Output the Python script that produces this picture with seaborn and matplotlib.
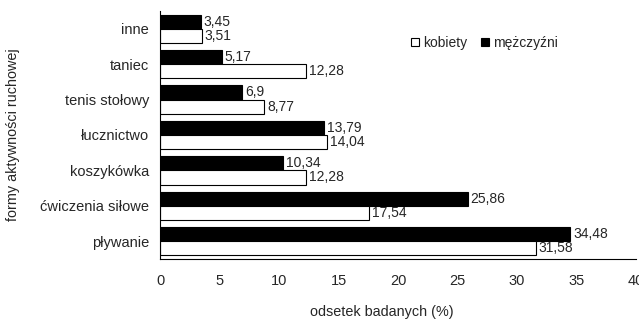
import pandas as pd
import matplotlib
matplotlib.use('Agg')
import matplotlib.pyplot as plt
import seaborn as sns
from matplotlib.patches import Patch
from matplotlib.ticker import FixedLocator

# data
categories = ['inne', 'taniec', 'tenis stołowy', 'łucznictwo', 'koszykówka',
              'ćwiczenia siłowe', 'pływanie']
men = [3.45, 5.17, 6.9, 13.79, 10.34, 25.86, 34.48]
women = [3.51, 12.28, 8.77, 14.04, 12.28, 17.54, 31.58]
men_labels = ['3,45', '5,17', '6,9', '13,79', '10,34', '25,86', '34,48']
women_labels = ['3,51', '12,28', '8,77', '14,04', '12,28', '17,54', '31,58']

# long form table for seaborn
df = pd.DataFrame({
    'forma': categories * 2,
    'odsetek': men + women,
    'plec': ['mężczyźni'] * len(categories) + ['kobiety'] * len(categories),
})

sns.set_style('white')
plt.rcParams['font.family'] = ['Liberation Sans', 'DejaVu Sans']

fig = plt.figure(figsize=(6.39, 3.2), dpi=100)
ax = fig.add_axes([0.2504, 0.191, 0.7449, 0.7746])

sns.barplot(data=df, y='forma', x='odsetek', hue='plec', order=categories,
            hue_order=['mężczyźni', 'kobiety'], palette=['black', 'white'],
            edgecolor='black', linewidth=0.8, width=0.8, orient='h',
            ax=ax, legend=False)

# value labels next to the bars
for container, labels in zip(ax.containers, [men_labels, women_labels]):
    ax.bar_label(container, labels=labels, padding=2, fontsize=10)

ax.set_xlim(0, 40)
ax.set_ylim(len(categories) - 0.5, -0.5)
ax.set_xticks(range(0, 45, 5))

# ticks between categories, like the original
ax.yaxis.set_minor_locator(FixedLocator([i - 0.5 for i in range(len(categories) + 1)]))
ax.tick_params(axis='y', which='major', length=0, labelsize=10.5, pad=8)
ax.tick_params(axis='y', which='minor', length=5, width=0.8, color='black', direction='out')
ax.tick_params(axis='x', length=5, width=0.8, color='black', direction='out',
               labelsize=10.5, pad=6)

for side in ['top', 'right']:
    ax.spines[side].set_visible(False)
for side in ['left', 'bottom']:
    ax.spines[side].set_color('black')
    ax.spines[side].set_linewidth(0.8)

ax.set_xlabel('odsetek badanych (%)', fontsize=10.4)
ax.set_ylabel('formy aktywności ruchowej', fontsize=10.4)
ax.xaxis.set_label_coords(0.465, -0.185)
ax.yaxis.set_label_coords(-0.295, 0.5)

legend_elements = [Patch(facecolor='white', edgecolor='black', linewidth=0.8, label='kobiety'),
                   Patch(facecolor='black', edgecolor='black', linewidth=0.8, label='mężczyźni')]
ax.legend(handles=legend_elements, loc='upper left', bbox_to_anchor=(0.5, 0.95),
          ncol=2, frameon=False, fontsize=10, handlelength=0.6, handleheight=0.6,
          handletextpad=0.3, columnspacing=1.0)

fig.savefig('out.png', dpi=100)
